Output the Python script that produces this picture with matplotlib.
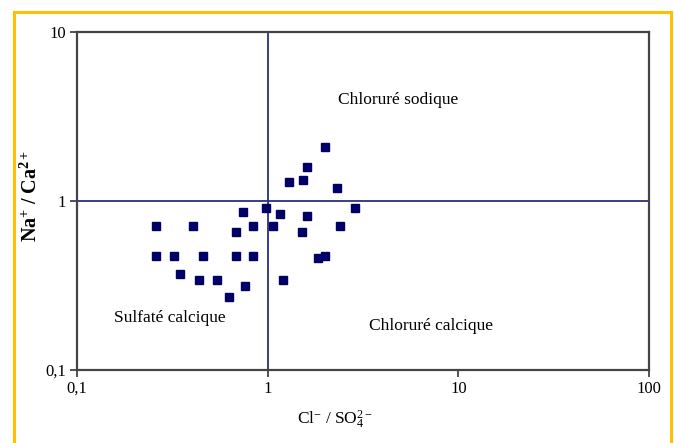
import matplotlib
matplotlib.use('Agg')
import matplotlib.pyplot as plt
from matplotlib.patches import Rectangle

# Cl- / SO4 2-  vs  Na+ / Ca2+
cl_so4 = [2.00, 1.61, 1.30, 1.53, 2.32, 2.87, 0.975, 0.743, 1.166, 1.61,
          0.259, 0.404, 0.841, 1.07, 2.40, 0.679, 1.51, 0.259, 0.324, 0.458,
          0.679, 0.841, 2.00, 1.83, 0.349, 0.436, 0.545, 1.21, 0.756, 0.630]
na_ca = [2.08, 1.58, 1.29, 1.33, 1.19, 0.903, 0.903, 0.856, 0.836, 0.811,
         0.709, 0.709, 0.709, 0.709, 0.709, 0.654, 0.654, 0.473, 0.473, 0.473,
         0.473, 0.473, 0.473, 0.459, 0.370, 0.343, 0.343, 0.343, 0.315, 0.269]

facies = ['Chloruré sodique', 'Sulfaté calcique', 'Chloruré calcique']
facies_x = [4.85, 0.305, 7.2]
facies_y = [3.95, 0.203, 0.182]

ticks = [0.1, 1, 10, 100]
tick_labels = ['0,1', '1', '10', '100']

plt.rcParams['font.family'] = ['Liberation Serif', 'DejaVu Serif']
plt.rcParams['mathtext.fontset'] = 'custom'
plt.rcParams['mathtext.rm'] = 'Liberation Serif'
plt.rcParams['mathtext.it'] = 'Liberation Serif:italic'
plt.rcParams['mathtext.bf'] = 'Liberation Serif:bold'

fig = plt.figure(figsize=(6.74, 4.43), dpi=100)
W, H = 674.0, 443.0
ax = fig.add_axes([77 / W, 1 - 370 / H, (649 - 77) / W, (370 - 32) / H])

# yellow frame round the chart
fig.patches.append(Rectangle((14 / W, -0.05), (671 - 14) / W, 1 - 12 / H + 0.05,
                             transform=fig.transFigure, fill=False,
                             edgecolor='#FFC000', linewidth=2.2))

navy = '#2B2F7E'
ax.axhline(1, color=navy, lw=1.3, zorder=1)
ax.axvline(1, color=navy, lw=1.3, zorder=1)

ax.plot(cl_so4, na_ca, 's', color='#000066', ms=5.2, zorder=3)

ax.set_xscale('log')
ax.set_yscale('log')
ax.set_xlim(0.1, 100)
ax.set_ylim(0.1, 10)
ax.set_xticks(ticks)
ax.set_xticklabels(tick_labels)
ax.set_yticks(ticks[:3])
ax.set_yticklabels(tick_labels[:3])
ax.minorticks_off()
ax.tick_params(which='major', direction='out', length=5, width=1.2,
               color='#333333', labelsize=12, pad=3)

for sp in ax.spines.values():
    sp.set_color('#444444')
    sp.set_linewidth(1.6)

for name, x, y in zip(facies, facies_x, facies_y):
    ax.text(x, y, name, fontsize=12.5, ha='center', va='center')

ax.set_xlabel(r'Cl$^{-}$ / SO$_{4}^{2-}$', fontsize=12.5)
ax.xaxis.set_label_coords(0.45, -0.115)
ax.set_ylabel(r'$\mathbf{Na^{+}\ /\ Ca^{2+}}$', fontsize=14.5)
ax.yaxis.set_label_coords(-0.062, 0.515)

fig.savefig('out.png', dpi=100)
